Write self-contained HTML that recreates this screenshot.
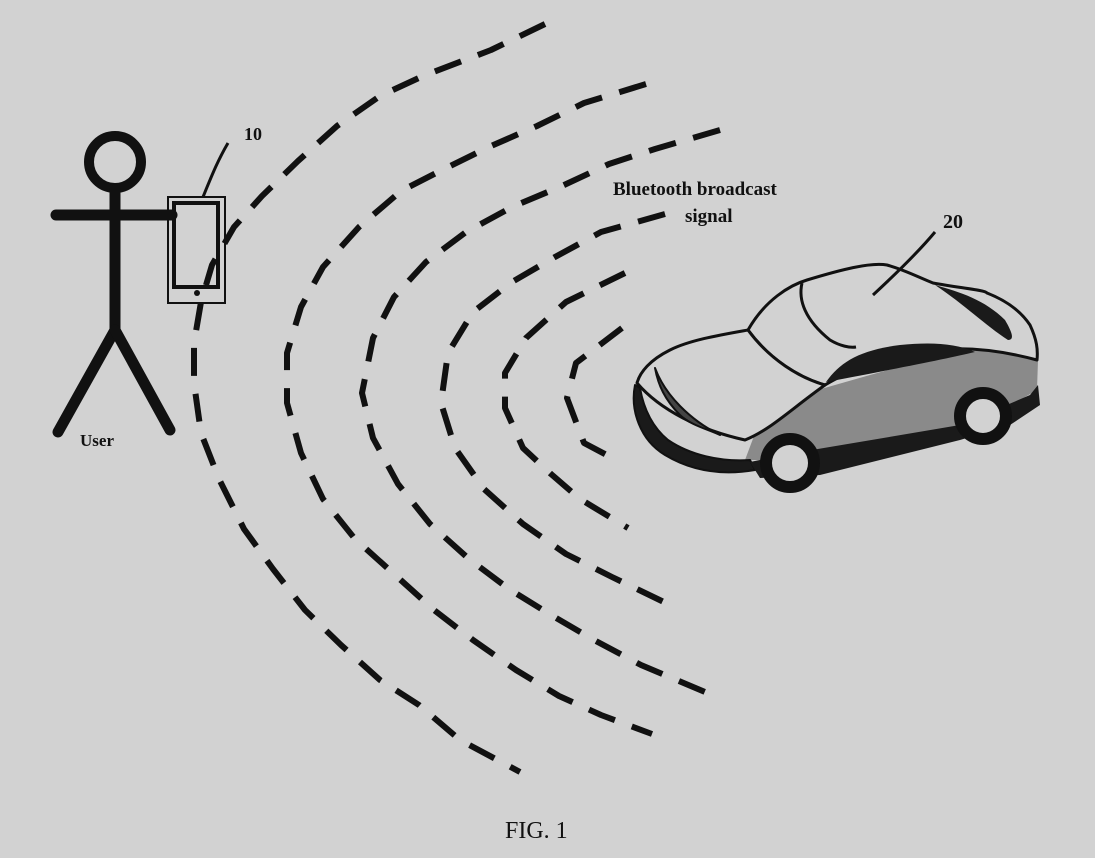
<!DOCTYPE html>
<html><head><meta charset="utf-8"><style>
html,body{margin:0;padding:0;background:#d2d2d2;}
svg{display:block;}
text{font-family:"Liberation Serif",serif;font-weight:bold;fill:#111;}
</style></head><body>
<svg width="1095" height="858" viewBox="0 0 1095 858" xmlns="http://www.w3.org/2000/svg">
<rect width="1095" height="858" fill="#d2d2d2"/>
<g fill="none" stroke="#111" stroke-width="6" stroke-dasharray="28 18" stroke-linejoin="round">
<polyline points="545,24 491,50 423,76 380,96 337,126 298,161 262,196 234,227 212,265 201,302 194,343 194,383 201,433 219,479 244,529 273,569 305,610 341,645 380,680 419,705 460,740 520,772"/>
<polyline points="646,84 584,103 537,126 491,146 444,169 401,191 359,227 323,267 301,307 287,353 287,403 301,453 323,499 355,539 394,574 434,610 473,640 516,670 559,696 601,715 652,734"/>
<polyline points="720,130 655,149 609,164 562,186 512,207 466,232 426,262 394,297 373,338 362,393 373,438 398,484 430,524 469,559 509,589 551,615 594,640 641,665 705,692"/>
<polyline points="665,214 601,232 555,257 512,282 473,312 448,353 441,403 455,448 484,489 523,524 566,554 612,577 668,604"/>
<polyline points="625,273 566,302 526,338 505,373 505,408 523,448 551,474 580,499 628,528"/>
<polyline points="622,328 576,363 567,398 584,443 620,462"/>
</g>
<!-- stick figure -->
<g stroke="#111" stroke-width="11" fill="none" stroke-linecap="round">
<circle cx="115" cy="162" r="26" stroke-width="10"/>
<line x1="115" y1="190" x2="115" y2="330"/>
<line x1="56" y1="215" x2="172" y2="215"/>
<line x1="115" y1="330" x2="58" y2="432"/>
<line x1="115" y1="330" x2="170" y2="430"/>
</g>
<text x="80" y="446" font-size="17">User</text>
<!-- phone -->
<rect x="168" y="197" width="57" height="106" fill="none" stroke="#111" stroke-width="2"/>
<rect x="174" y="203" width="44" height="84" fill="none" stroke="#111" stroke-width="4"/>
<circle cx="197" cy="293" r="3" fill="#111"/>
<path d="M228,143 C218,160 212,175 203,197" stroke="#111" stroke-width="3" fill="none"/>
<text x="244" y="140" font-size="18">10</text>
<text x="613" y="195" font-size="19">Bluetooth broadcast</text>
<text x="685" y="222" font-size="19">signal</text>
<text x="943" y="228" font-size="20">20</text>
<!-- car -->
<g stroke="#111" stroke-linejoin="round">
<!-- body side gray -->
<path d="M745,460 L760,420 L800,395 L870,375 L960,350 L1020,345 L1038,360 L1037,390 L1020,400 L955,430 L810,460 Z" fill="#8a8a8a" stroke="none"/>
<!-- roof/cabin -->
<path d="M748,330 C765,300 790,285 807,280 C840,270 870,262 887,265 C905,270 920,278 933,283 C960,288 985,290 987,293 C1005,300 1020,310 1030,325 C1037,340 1038,350 1037,360 C1000,350 960,345 920,352 C880,358 850,370 825,385 C800,378 770,360 748,330 Z" fill="#d2d2d2" stroke-width="3"/>
<!-- hood -->
<path d="M748,330 C720,335 690,340 670,350 C650,360 640,372 637,383 C660,410 700,430 745,440 C770,430 790,410 825,385 C800,378 770,360 748,330 Z" fill="#d2d2d2" stroke-width="3"/>
<!-- windshield line -->
<path d="M802,283 C798,300 805,320 830,340 C840,346 850,348 856,347" fill="none" stroke-width="3"/>
<!-- side window -->
<path d="M826,382 C840,362 860,350 900,345 C930,342 955,343 975,352 C950,358 900,368 826,382 Z" fill="#1a1a1a" stroke="none"/>
<!-- rear window -->
<path d="M935,285 C960,292 985,300 1005,320 C1012,332 1015,340 1008,340 C985,325 965,305 935,285 Z" fill="#1a1a1a" stroke="none"/>
<!-- front bumper dark band -->
<path d="M635,385 C630,410 640,440 665,455 C690,470 720,476 755,470 L750,460 C720,462 690,455 668,440 C650,425 643,405 640,388 Z" fill="#1a1a1a" stroke-width="2"/>
<!-- lower body dark -->
<path d="M750,462 L800,452 L960,425 L1030,395 L1038,385 L1040,405 L1010,425 L960,440 L820,475 L760,478 Z" fill="#1a1a1a" stroke="none"/>
<!-- headlight -->
<path d="M655,368 C665,395 690,420 720,435 C710,430 690,425 680,415 C665,400 658,385 655,368 Z" fill="#444" stroke-width="2"/>
</g>
<!-- wheels -->
<circle cx="790" cy="463" r="24" fill="#d2d2d2" stroke="#111" stroke-width="12"/>
<circle cx="983" cy="416" r="23" fill="#d2d2d2" stroke="#111" stroke-width="12"/>
<path d="M935,232 C920,250 900,270 873,295" stroke="#111" stroke-width="3" fill="none"/>
<text x="505" y="838" font-size="24" font-weight="normal" style="font-weight:normal">FIG. 1</text>
</svg>
</body></html>
